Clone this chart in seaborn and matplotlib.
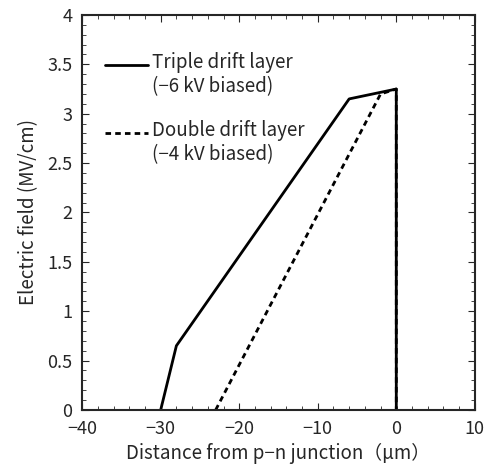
import pandas as pd
import seaborn as sns
import matplotlib.pyplot as plt
from matplotlib.ticker import MultipleLocator

triple_x = [-30, -28, -6, 0, 0]
triple_y = [0, 0.65, 3.15, 3.25, 0]
double_x = [-23, -2, 0, 0]
double_y = [0, 3.2, 3.25, 0]
labels = ["Triple drift layer\n(−6 kV biased)", "Double drift layer\n(−4 kV biased)"]

df = pd.concat([
    pd.DataFrame({"x": triple_x, "y": triple_y, "layer": labels[0]}),
    pd.DataFrame({"x": double_x, "y": double_y, "layer": labels[1]}),
])

sns.set_style("ticks")
plt.rcParams["font.family"] = ["Noto Sans CJK JP", "DejaVu Sans"]

fig = plt.figure(figsize=(4.86, 4.68), dpi=100)
ax = fig.add_axes([0.169, 0.124, 0.808, 0.844])

sns.lineplot(
    data=df, x="x", y="y", style="layer", sort=False, estimator=None,
    color="black", linewidth=2,
    dashes={labels[0]: "", labels[1]: (2, 1.5)}, ax=ax
)

ax.set_xlim(-40, 10)
ax.set_ylim(0, 4)
ax.xaxis.set_major_locator(MultipleLocator(10))
ax.xaxis.set_minor_locator(MultipleLocator(2))
ax.yaxis.set_minor_locator(MultipleLocator(0.1))
ax.set_yticks([0, 0.5, 1, 1.5, 2, 2.5, 3, 3.5, 4])
ax.set_yticklabels(["0", "0.5", "1", "1.5", "2", "2.5", "3", "3.5", "4"])
ax.tick_params(which="both", direction="in", top=True, right=True, labelsize=13)
ax.tick_params(which="major", length=5, pad=7)
ax.tick_params(which="minor", length=3)
for s in ax.spines.values():
    s.set_linewidth(1.5)

ax.set_xlabel("Distance from p−n junction（μm）", fontsize=13.5, labelpad=4)
ax.set_ylabel("Electric field (MV/cm)", fontsize=13.5, labelpad=6)

leg = ax.legend(
    loc="upper left", frameon=False, fontsize=13.5, handlelength=2.3,
    handletextpad=0.2, labelspacing=1.2, borderaxespad=0,
    bbox_to_anchor=(0.04, 0.925)
)
# put the handle beside the first line of each label
for line in leg.get_lines():
    line.set_ydata([y + 8 for y in line.get_ydata()])

fig.savefig("out.png", dpi=100)
